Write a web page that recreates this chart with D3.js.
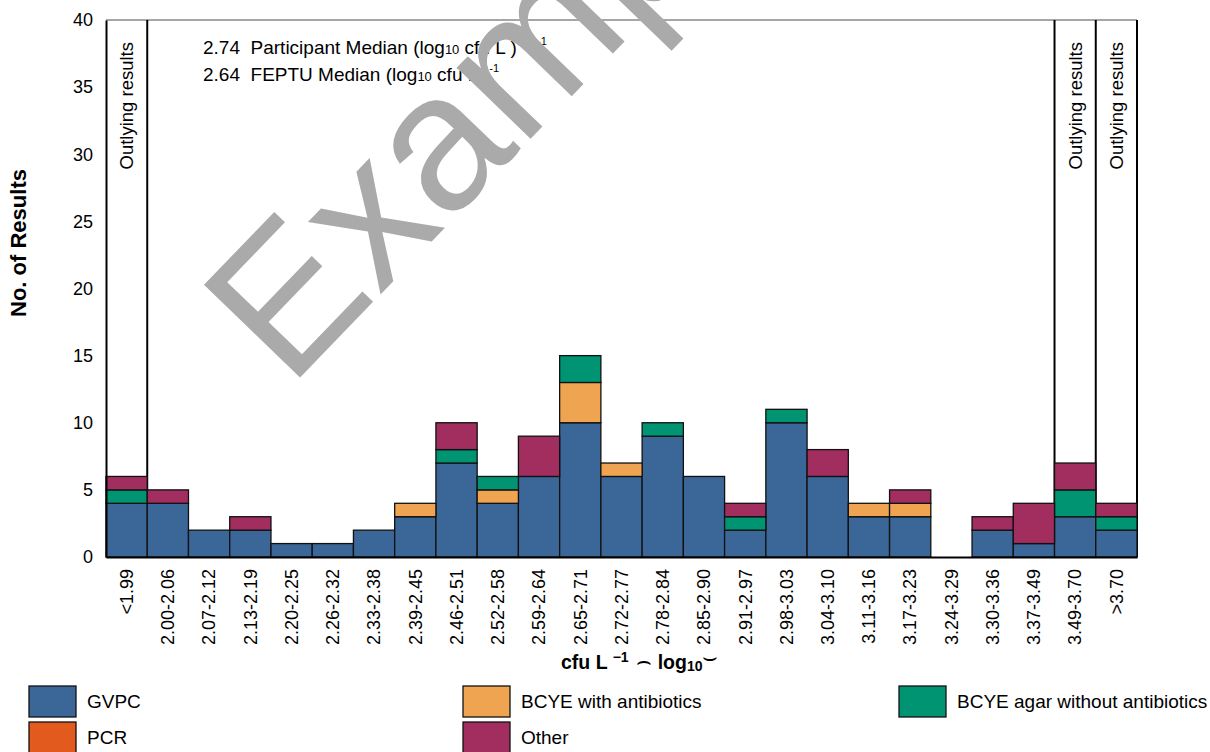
<!DOCTYPE html>
<html>
<head>
<meta charset="utf-8">
<script src="https://cdn.jsdelivr.net/npm/d3@7"></script>
<style>
  body { margin: 0; background: #fff; }
  svg text { font-family: "Liberation Sans", Arial, sans-serif; }
</style>
</head>
<body>
<svg id="chart" width="1210" height="752"></svg>
<script>
const categories = ["<1.99","2.00-2.06","2.07-2.12","2.13-2.19","2.20-2.25","2.26-2.32","2.33-2.38","2.39-2.45","2.46-2.51","2.52-2.58","2.59-2.64","2.65-2.71","2.72-2.77","2.78-2.84","2.85-2.90","2.91-2.97","2.98-3.03","3.04-3.10","3.11-3.16","3.17-3.23","3.24-3.29","3.30-3.36","3.37-3.49","3.49-3.70",">3.70"];
const gvpc        = [4,4,2,2,1,1,2,3,7,4,6,10,6,9,6,2,10,6,3,3,0,2,1,3,2];
const bcyeWith    = [0,0,0,0,0,0,0,1,0,1,0,3,1,0,0,0,0,0,1,1,0,0,0,0,0];
const bcyeWithout = [1,0,0,0,0,0,0,0,1,1,0,2,0,1,0,1,1,0,0,0,0,0,0,2,1];
const pcr         = [0,0,0,0,0,0,0,0,0,0,0,0,0,0,0,0,0,0,0,0,0,0,0,0,0];
const other       = [1,1,0,1,0,0,0,0,2,0,3,0,0,0,0,1,0,2,0,1,0,1,3,2,1];
const seriesNames = ["GVPC","BCYE with antibiotics","BCYE agar without antibiotics","PCR","Other"];
const seriesColors = ["#3a6698","#efa452","#009473","#e35a1e","#a22d5f"];
const yTicks = [0,5,10,15,20,25,30,35,40];
const outlyingCats = ["<1.99","3.49-3.70",">3.70"];

const svg = d3.select("#chart");
const L = 106, R = 1137, T = 20, B = 557;

const x = d3.scaleBand().domain(categories).range([L, R]).padding(0);
const y = d3.scaleLinear().domain([0, 40]).range([B, T]);

const keys = ["g","w","wo","p","o"];
const table = categories.map((c, i) => ({cat: c, g: gvpc[i], w: bcyeWith[i], wo: bcyeWithout[i], p: pcr[i], o: other[i]}));
const stacked = d3.stack().keys(keys)(table);

// frame
svg.append("line").attr("x1", L).attr("x2", R).attr("y1", T).attr("y2", T).attr("stroke", "#888").attr("stroke-width", 1.5);
svg.append("line").attr("x1", R).attr("x2", R).attr("y1", T).attr("y2", B).attr("stroke", "#000").attr("stroke-width", 2);

// outlying separators
[x(categories[1]), x(categories[23]), x(categories[24])].forEach(xx => {
  svg.append("line").attr("x1", xx).attr("x2", xx).attr("y1", T).attr("y2", B).attr("stroke", "#000").attr("stroke-width", 2);
});

// bars
stacked.forEach((layer, si) => {
  svg.append("g").selectAll("rect").data(layer).join("rect")
    .filter(d => si === 0 || d[1] - d[0] > 0)
    .attr("x", d => x(d.data.cat))
    .attr("width", x.bandwidth())
    .attr("y", d => y(d[1]))
    .attr("height", d => y(d[0]) - y(d[1]))
    .attr("fill", seriesColors[si])
    .attr("stroke", "#111")
    .attr("stroke-width", 1.3);
});

// y axis
const yAxis = svg.append("g").attr("transform", `translate(${L},0)`)
  .call(d3.axisLeft(y).tickValues(yTicks).tickSize(0).tickPadding(13));
yAxis.select(".domain").attr("stroke", "#000").attr("stroke-width", 2);
yAxis.selectAll("text").attr("font-size", 18).attr("fill", "#000");

// x axis
const xAxis = svg.append("g").attr("transform", `translate(0,${B})`)
  .call(d3.axisBottom(x).tickSize(0).tickPadding(0));
xAxis.select(".domain").attr("stroke", "#000").attr("stroke-width", 2);
xAxis.selectAll("text")
  .attr("font-size", 18).attr("fill", "#000")
  .attr("text-anchor", "end")
  .attr("transform", "rotate(-90)")
  .attr("x", -12).attr("y", 0).attr("dy", "0.35em");

// outlying labels
svg.append("g").selectAll("text").data(outlyingCats).join("text")
  .attr("transform", d => `translate(${x(d) + x.bandwidth()/2},42) rotate(-90)`)
  .attr("text-anchor", "end").attr("dy", "0.35em")
  .attr("font-size", 18.5).text("Outlying results");

// annotations
const a1 = svg.append("text").attr("x", 203).attr("y", 54).attr("font-size", 19).style("white-space", "pre");
a1.append("tspan").text("2.74  Participant Median (log");
a1.append("tspan").attr("font-size", 13).text("10");
a1.append("tspan").text(" cfu L )");
a1.append("tspan").attr("x", 537).attr("dy", -9).attr("font-size", 11).text("-1");

const a2 = svg.append("text").attr("x", 203).attr("y", 81).attr("font-size", 19).style("white-space", "pre");
a2.append("tspan").text("2.64  FEPTU Median (log");
a2.append("tspan").attr("font-size", 13).text("10");
a2.append("tspan").text(" cfu L )");
a2.append("tspan").attr("dy", -9).attr("font-size", 11).text("-1");

// axis titles
svg.append("text").attr("transform", "translate(26,243) rotate(-90)")
  .attr("text-anchor", "middle").attr("font-size", 22).attr("font-weight", "bold").text("No. of Results");

const xt = svg.append("text").attr("x", 561).attr("y", 669).attr("font-size", 19.5).attr("font-weight", "bold").style("white-space", "pre");
xt.append("tspan").text("cfu L ");
xt.append("tspan").attr("dy", -7).attr("font-size", 14).text("\u22121");
xt.append("tspan").attr("dy", 7).style("font-family", "DejaVu Sans").attr("font-weight", "normal").attr("font-size", 24).text(" \u2322");
xt.append("tspan").text(" log");
xt.append("tspan").attr("font-size", 14).attr("dy", 2).text("10");
xt.append("tspan").attr("dy", -6).attr("dx", -1).style("font-family", "DejaVu Sans").attr("font-weight", "normal").attr("font-size", 24).text("\u2323");

// legend
const legendPos = [[29,686],[463,686],[899,686],[29,722],[463,722]];
const lg = svg.append("g").selectAll("g").data(seriesNames).join("g")
  .attr("transform", (d, i) => `translate(${legendPos[i][0]},${legendPos[i][1]})`);
lg.append("rect").attr("width", 47).attr("height", 31)
  .attr("fill", (d, i) => seriesColors[i]).attr("stroke", "#111").attr("stroke-width", 1.3);
lg.append("text").attr("x", 58).attr("y", 15).attr("dy", "0.35em").attr("font-size", 19).text(d => d);

// watermark
svg.append("text").attr("transform", "translate(289,389) rotate(-46)")
  .attr("font-size", 194).attr("fill", "#aaaaaa").text("Example");
</script>
</body>
</html>
